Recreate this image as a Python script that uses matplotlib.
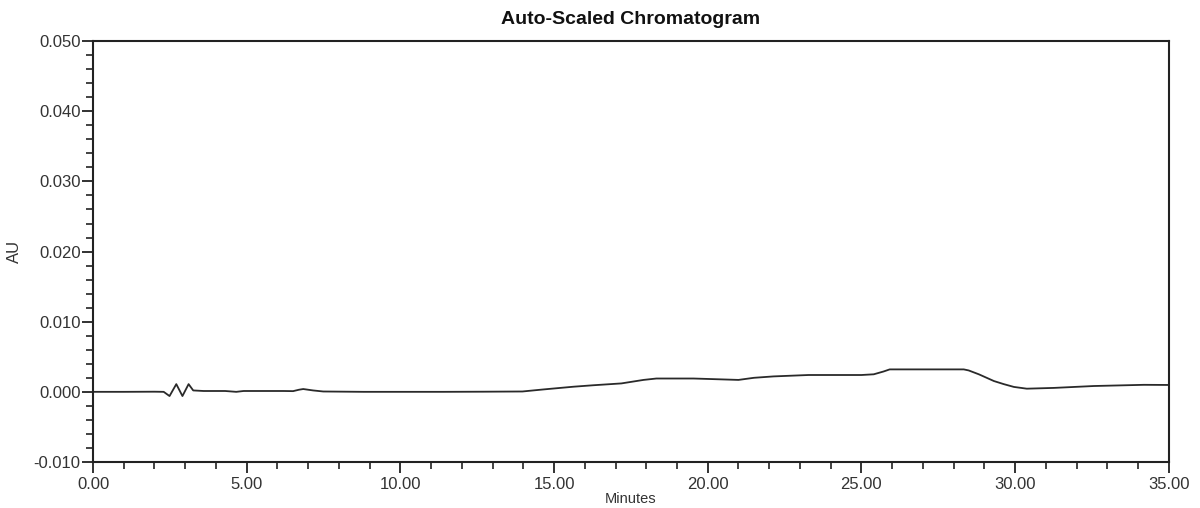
import matplotlib
matplotlib.use("Agg")
import matplotlib.pyplot as plt
from matplotlib.ticker import MultipleLocator, FormatStrFormatter

# Data (minutes, AU)
time_min = [0.0, 1.0, 2.0, 2.3, 2.49, 2.71, 2.91, 3.11, 3.26, 3.6, 4.3, 4.66, 4.9,
            5.5, 6.2, 6.51, 6.7, 6.84, 7.16, 7.49, 8.8, 10.0, 11.4, 12.7, 13.97,
            14.65, 15.63, 16.28, 17.19, 17.91, 18.33, 19.54, 21.0, 21.5, 22.14,
            23.28, 24.1, 25.0, 25.4, 25.72, 25.92, 26.5, 27.5, 28.33, 28.49,
            28.82, 29.31, 29.63, 29.96, 30.38, 31.26, 32.56, 34.19, 35.0]
au = [0.0, 0.0, 0.00002, 0.0, -0.0006, 0.0011, -0.0006, 0.0011, 0.0002,
      0.00012, 0.00012, 0.0, 0.00012, 0.00012, 0.00012, 0.0001, 0.0003,
      0.0004, 0.0002, 0.00005, 0.0, 0.0, 0.0, 0.00002, 0.00005, 0.00034,
      0.00073, 0.00094, 0.0012, 0.0017, 0.0019, 0.0019, 0.0017, 0.002, 0.0022,
      0.0024, 0.0024, 0.0024, 0.0025, 0.0029, 0.0032, 0.0032, 0.0032, 0.0032,
      0.00305, 0.0025, 0.00154, 0.0011, 0.0007, 0.00045, 0.00056, 0.00083,
      0.001, 0.00098]

title = "Auto-Scaled Chromatogram"
xlabel = "Minutes"
ylabel = "AU"

plt.rcParams['font.family'] = ['Liberation Sans', 'DejaVu Sans']

fig = plt.figure(figsize=(12, 5.08), dpi=100)
ax = fig.add_axes([0.0775, 0.0906, 0.8965, 0.8284])

ax.plot(time_min, au, color='#2a2a2a', lw=1.3)

ax.set_xlim(0, 35)
ax.set_ylim(-0.010, 0.050)

ax.xaxis.set_major_locator(MultipleLocator(5))
ax.xaxis.set_minor_locator(MultipleLocator(1))
ax.yaxis.set_major_locator(MultipleLocator(0.010))
ax.yaxis.set_minor_locator(MultipleLocator(0.002))
ax.xaxis.set_major_formatter(FormatStrFormatter('%.2f'))
ax.yaxis.set_major_formatter(FormatStrFormatter('%.3f'))

ax.tick_params(axis='both', which='major', direction='out', length=8,
               width=1.3, labelsize=12, color='#222222', labelcolor='#333333')
ax.tick_params(axis='both', which='minor', direction='out', length=5,
               width=1.2, color='#222222')
ax.tick_params(axis='y', which='major', pad=1)
ax.tick_params(axis='x', which='major', pad=3)

for s in ax.spines.values():
    s.set_linewidth(1.5)
    s.set_color('#222222')

ax.set_title(title, fontsize=14, fontweight='bold', pad=12, color='#111111')
ax.set_xlabel(xlabel, fontsize=10.5, labelpad=0, color='#333333')
ax.set_ylabel(ylabel, fontsize=12, labelpad=8, color='#333333')

fig.savefig("out.png", dpi=100)
